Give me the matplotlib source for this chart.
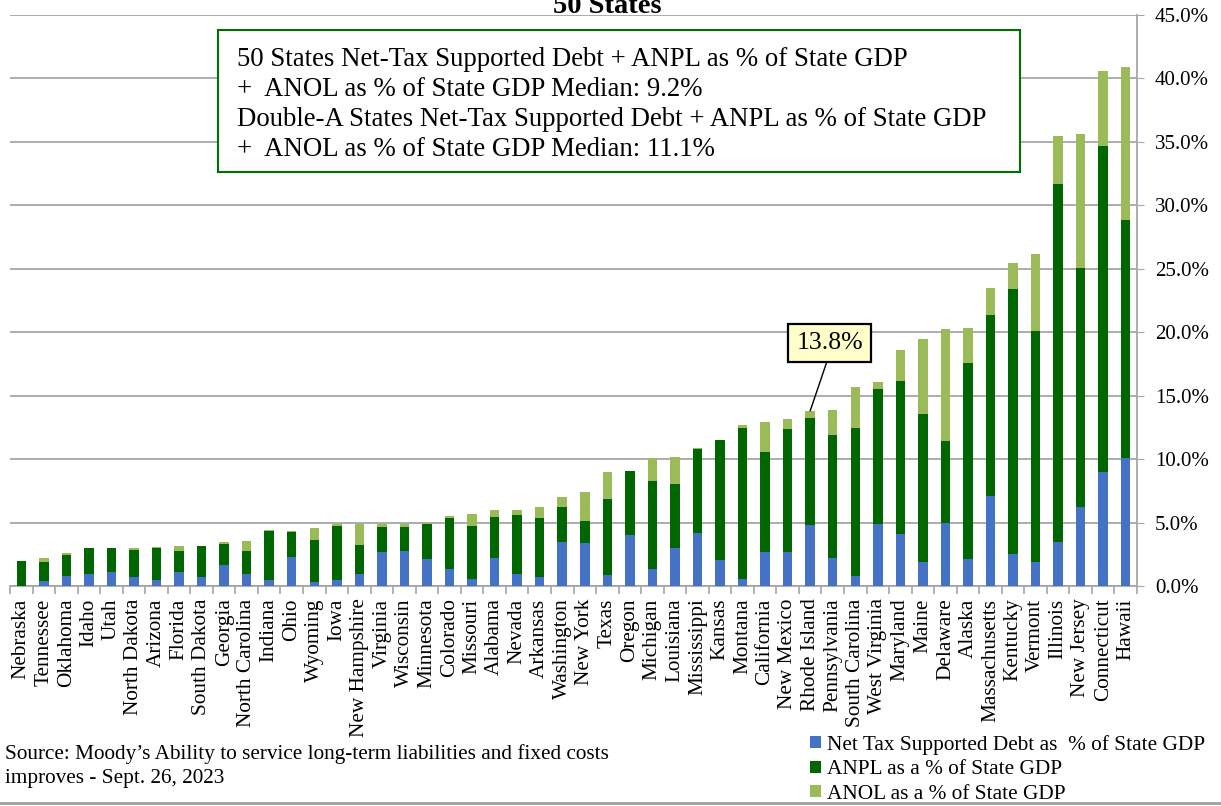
import matplotlib
matplotlib.use("Agg")
import matplotlib.pyplot as plt
import numpy as np
from matplotlib.patches import Rectangle
from matplotlib.lines import Line2D

states = ["Nebraska", "Tennessee", "Oklahoma", "Idaho", "Utah", "North Dakota", "Arizona",
          "Florida", "South Dakota", "Georgia", "North Carolina", "Indiana", "Ohio", "Wyoming",
          "Iowa", "New Hampshire", "Virginia", "Wisconsin", "Minnesota", "Colorado", "Missouri",
          "Alabama", "Nevada", "Arkansas", "Washington", "New York", "Texas", "Oregon",
          "Michigan", "Louisiana", "Mississippi", "Kansas", "Montana", "California",
          "New Mexico", "Rhode Island", "Pennsylvania", "South Carolina", "West Virginia",
          "Maryland", "Maine", "Delaware", "Alaska", "Massachusetts", "Kentucky", "Vermont",
          "Illinois", "New Jersey", "Connecticut", "Hawaii"]

net_tax_debt = [0.00, 0.37, 0.79, 0.98, 1.08, 0.69, 0.50, 1.08, 0.69, 1.69,
                0.98, 0.50, 2.27, 0.29, 0.50, 0.98, 2.68, 2.79, 2.11, 1.32,
                0.58, 2.21, 0.98, 0.69, 3.47, 3.37, 0.87, 4.00, 1.37, 2.98,
                4.18, 2.08, 0.53, 2.68, 2.68, 4.79, 2.19, 0.77, 4.87, 4.08,
                1.87, 4.95, 2.11, 7.08, 2.50, 1.87, 3.50, 6.21, 8.97, 10.08]

anpl = [1.97, 1.52, 1.66, 1.99, 1.89, 2.15, 2.50, 1.66, 2.47, 1.65,
        1.76, 3.87, 1.98, 3.37, 4.26, 2.29, 1.98, 1.87, 2.79, 4.05,
        4.16, 3.24, 4.60, 4.65, 2.78, 1.79, 6.00, 5.05, 6.92, 5.07,
        6.58, 9.39, 11.94, 7.90, 9.71, 8.47, 9.68, 11.69, 10.65, 12.08,
        11.68, 6.49, 15.47, 14.29, 20.94, 18.23, 28.18, 18.86, 25.71, 18.73]

anol = [0.03, 0.30, 0.13, -0.10, 0.00, 0.13, 0.08, 0.45, 0.03, 0.13,
        0.84, 0.03, 0.12, 0.92, 0.11, 1.63, 0.24, 0.24, 0.03, 0.13,
        0.94, 0.52, 0.39, 0.85, 0.75, 2.21, 2.10, 0.05, 1.79, 2.13,
        0.11, 0.03, 0.21, 2.32, 0.79, 0.54, 2.00, 3.22, 0.56, 2.42,
        5.92, 8.82, 2.78, 2.10, 2.03, 6.08, 3.81, 10.53, 5.92, 12.07]

yticks = [0, 5, 10, 15, 20, 25, 30, 35, 40, 45]
series_names = ["Net Tax Supported Debt as  % of State GDP",
                "ANPL as a % of State GDP",
                "ANOL as a % of State GDP"]
callout_state = "Rhode Island"
box_lines = ["50 States Net-Tax Supported Debt + ANPL as % of State GDP",
             "+  ANOL as % of State GDP Median: 9.2%",
             "Double-A States Net-Tax Supported Debt + ANPL as % of State GDP",
             "+  ANOL as % of State GDP Median: 11.1%"]
source_lines = ["Source: Moody\u2019s Ability to service long-term liabilities and fixed costs",
                "improves - Sept. 26, 2023"]

C_BLUE = "#4472C4"
C_DARK = "#006600"
C_LIGHT = "#9BBB59"
GRID = "#A6A6A6"
SERIF = ["Liberation Serif", "DejaVu Serif"]

W, H = 1221, 806
fig = plt.figure(figsize=(W / 100, H / 100), dpi=100)
ax = fig.add_axes([10 / W, 1 - 586 / H, (1137 - 10) / W, (586 - 15) / H])

x = np.arange(len(states))
b = np.array(net_tax_debt)
p = np.array(anpl)
o = np.array(anol)
bw = 0.42
ax.bar(x, b, bw, color=C_BLUE, label=series_names[0], zorder=3)
ax.bar(x, p, bw, bottom=b, color=C_DARK, label=series_names[1], zorder=3)
o_bottom = np.where(o >= 0, b + p, 0)
ax.bar(x, o, bw, bottom=o_bottom, color=C_LIGHT, label=series_names[2], zorder=3)

ax.set_xlim(-0.5, len(states) - 0.5)
ax.set_ylim(0, 45)
ax.yaxis.tick_right()
ax.set_yticks(yticks)
ax.set_yticklabels([f"{v:.1f}%" for v in yticks], fontfamily=SERIF, fontsize=15)
ax.tick_params(axis="y", direction="out", length=5, color=GRID, pad=8, right=True, left=False)
ax.yaxis.grid(True, color=GRID, lw=1.3, zorder=0)

ax.set_xticks(x)
ax.set_xticklabels(states, rotation=90, fontfamily=SERIF, fontsize=15.3, va="top", ha="center")
ax.tick_params(axis="x", which="major", length=0, pad=9)
ax.set_xticks(np.arange(-0.5, len(states), 1), minor=True)
ax.tick_params(axis="x", which="minor", direction="out", length=6, color=GRID, width=1.2)

for s in ["top", "left"]:
    ax.spines[s].set_visible(False)
for s in ["bottom", "right"]:
    ax.spines[s].set_color(GRID)
    ax.spines[s].set_linewidth(1.3)

# Title (partly cut at the top edge, as in the reference)
fig.text(607 / W, 1 - 13 / H, "50 States", ha="center", va="baseline",
         fontfamily=SERIF, fontsize=20.5, fontweight="bold")

# Median box
fig.patches.append(Rectangle((218 / W, 1 - 172 / H), (1020 - 218) / W, (172 - 30) / H,
                             transform=fig.transFigure, facecolor="white",
                             edgecolor="#007000", lw=1.5, zorder=5))
for i, (line, yc) in enumerate(zip(box_lines, [59, 89, 119, 149])):
    fig.text(237 / W, 1 - yc / H, line, ha="left", va="center",
             fontfamily=SERIF, fontsize=19.3, zorder=6)

# Callout
ci = states.index(callout_state)
ctotal = b[ci] + p[ci] + max(o[ci], 0)
ax.annotate(f"{ctotal:.1f}%", xy=(ci, ctotal), xycoords="data",
            xytext=(829.5 / W, 1 - 343 / H), textcoords="figure fraction",
            ha="center", va="center", fontfamily=SERIF, fontsize=18.5,
            bbox=dict(boxstyle="square,pad=0.3", fc="#FFFFCC", ec="black", lw=1.6),
            arrowprops=dict(arrowstyle="-", color="black", lw=1.0,
                            relpos=(0.5, 0.0), shrinkA=0, shrinkB=0),
            zorder=7)

# Source text
fig.text(5 / W, 1 - 754 / H, source_lines[0], ha="left", va="center",
         fontfamily=SERIF, fontsize=15.3)
fig.text(5 / W, 1 - 778 / H, source_lines[1], ha="left", va="center",
         fontfamily=SERIF, fontsize=15.3)

# Legend
handles, labels = ax.get_legend_handles_labels()
leg = fig.legend(handles, labels, loc="upper left",
                 bbox_to_anchor=(810 / W, 1 - 735 / H), frameon=False,
                 prop={"family": SERIF, "size": 15.3},
                 handlelength=0.5, handleheight=0.5, handletextpad=0.3,
                 labelspacing=0.25, borderpad=0, borderaxespad=0)

# bottom border line
fig.add_artist(Line2D([0, 1], [1 - 803 / H, 1 - 803 / H], transform=fig.transFigure,
                      color="#A0A0A0", lw=2))

fig.savefig("out.png", dpi=100)
